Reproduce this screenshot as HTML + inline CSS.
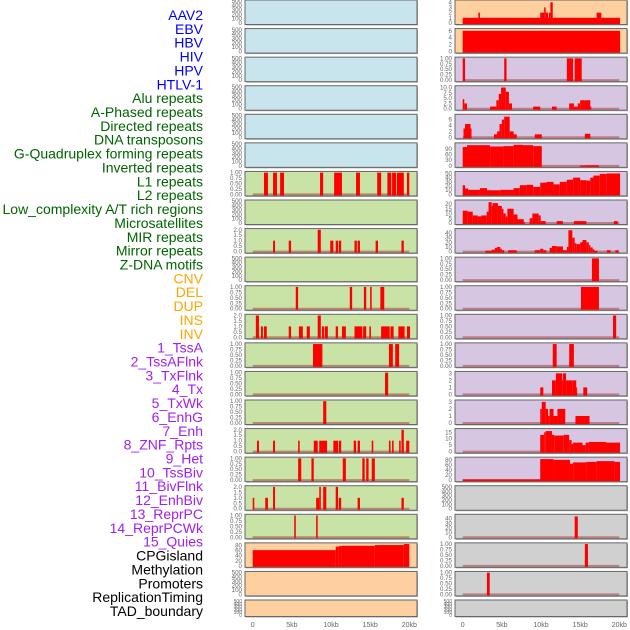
<!DOCTYPE html>
<html><head><meta charset="utf-8">
<style>
html,body{margin:0;padding:0;background:#fff;}
svg{display:block;font-family:"Liberation Sans",sans-serif;}
</style></head>
<body>
<svg id="chart" width="630" height="630" viewBox="0 0 630 630" xmlns="http://www.w3.org/2000/svg"></svg>
<script>
// ---------- data ----------
const labels = ["AAV2","EBV","HBV","HIV","HPV","HTLV-1","Alu repeats","A-Phased repeats","Directed repeats","DNA transposons","G-Quadruplex forming repeats","Inverted repeats","L1 repeats","L2 repeats","Low_complexity A/T rich regions","Microsatellites","MIR repeats","Mirror repeats","Z-DNA motifs","CNV","DEL","DUP","INS","INV","1_TssA","2_TssAFlnk","3_TxFlnk","4_Tx","5_TxWk","6_EnhG","7_Enh","8_ZNF_Rpts","9_Het","10_TssBiv","11_BivFlnk","12_EnhBiv","13_ReprPC","14_ReprPCWk","15_Quies","CPGisland","Methylation","Promoters","ReplicationTiming","TAD_boundary"];
const labelColors = ["#0000ff","#0000ff","#0000ff","#0000ff","#0000ff","#0000ff","#006400","#006400","#006400","#006400","#006400","#006400","#006400","#006400","#006400","#006400","#006400","#006400","#006400","#ffa500","#ffa500","#ffa500","#ffa500","#ffa500","#a020f0","#a020f0","#a020f0","#a020f0","#a020f0","#a020f0","#a020f0","#a020f0","#a020f0","#a020f0","#a020f0","#a020f0","#a020f0","#a020f0","#a020f0","#000","#000","#000","#000","#000"];
const xTicks = [0,5,10,15,20];
const xTickLabels = ["0","5kb","10kb","15kb","20kb"];
const t500 = ["0","100","200","300","400","500"];
const t01 = ["0.00","0.25","0.50","0.75","1.00"];
const t02 = ["0.0","0.5","1.0","1.5","2.0"];
// left column bars: [startKb, endKb, value]
const leftL1 = [[1.44,1.95,1],[2.6,3.1,1],[3.5,4.0,1],[8.6,9.0,1],[10.4,11.4,1],[13.2,13.7,1],[15.9,16.4,1],[17.2,17.7,1],[17.8,18.3,1],[18.4,19.3,1],[19.7,20.0,1]];
const leftMIR = [[2.6,2.85,1],[4.6,4.9,1],[8.3,8.7,2],[9.9,10.3,1],[10.6,10.9,1],[11.0,11.3,1],[13.0,13.3,1],[13.4,13.7,1],[15.7,16.0,1],[19.0,19.3,1]];
const leftR10 = [[5.5,5.8,1],[12.4,12.7,1],[14.2,14.5,1],[15.0,15.2,1],[16.3,16.8,1]];
const leftR11 = [[0.4,0.8,2],[1.06,1.3,1],[1.44,1.8,1],[4.6,4.9,1],[5.9,6.4,1],[6.9,7.3,1],[8.3,8.7,2],[8.85,9.1,1],[9.2,9.6,1],[10.6,10.9,1],[11.4,11.9,1],[13.0,14.0,1],[14.1,14.5,1],[14.9,15.1,1],[16.4,17.5,1],[17.6,18.0,1],[18.6,19.4,1],[19.7,20.1,1]];
const leftR12 = [[7.7,8.9,1],[17.4,17.9,1],[18.2,18.7,1]];
const leftR13 = [[16.9,17.3,1]];
const leftR14 = [[9.0,9.4,1]];
const leftR15 = [[0.55,0.8,1],[2.6,2.85,1],[5.8,6.0,1],[7.8,8.3,1],[8.5,9.5,1],[10.3,10.9,1],[11.0,11.3,1],[12.9,13.2,1],[13.4,13.7,1],[15.2,15.4,1],[17.4,17.6,1],[17.8,18.0,1],[18.7,18.9,1],[19.0,19.3,2],[19.6,20.0,1]];
const leftR16 = [[5.8,6.2,1],[7.5,7.8,1],[11.5,11.9,1],[14.0,14.3,1],[14.5,14.8,1],[15.2,15.6,1]];
const leftR17 = [[0,0.2,1],[1.6,1.95,1],[2.6,2.85,2],[8.1,8.5,1],[8.5,8.7,2],[9.0,9.4,2],[10.6,10.9,2],[11.0,11.3,1],[13.4,13.7,1],[19.0,19.3,1]];
const leftR18 = [[5.3,5.5,1],[8.1,8.3,1]];
const leftCPG = [[0,10.6,62],[10.6,11.0,76],[11.0,11.4,78],[11.4,15.6,79],[15.6,19.3,82],[19.3,20.0,86]];
// right column bars
const rightAAV2 = [[0,20.1,1],[2.0,2.2,2],[9.9,10.4,2],[10.4,10.6,3],[10.6,10.9,2],[11.0,11.2,2],[11.2,11.5,4],[17.1,17.7,2]];
const rightEBV = [[0,20.1,6]];
const rightHIV = [[0,0.3,1],[5.3,5.6,1],[13.3,14.1,1],[14.3,15.2,1]];
const rightHPV = [[0,0.2,4.5],[0.2,0.55,2.5],[3.5,4.3,1],[4.3,4.6,4],[4.6,4.9,7],[4.9,5.5,10],[5.5,5.9,8],[5.9,6.3,2.5],[9.0,9.9,1],[11.4,12.0,1],[13.6,14.2,2.5],[14.2,14.7,1],[14.7,15.0,2.5],[15.0,15.5,4],[15.5,16.3,4],[16.3,16.4,1]];
const rightHTLV = [[0.1,0.3,3],[0.3,1.0,4.5],[1.0,1.1,3],[4.0,4.4,1],[4.4,4.7,2],[4.7,5.0,4.5],[5.0,5.3,6],[5.3,6.0,7],[6.0,6.5,2],[6.5,6.9,1],[9.2,10.1,1],[15.6,16.3,1.2]];
const rightAlu = [[0,0.55,100],[0.55,3.5,110],[3.5,5.2,103],[5.2,6.5,105],[6.5,7.7,112],[7.7,9.0,110],[9.0,10.1,105],[15.0,15.6,2],[15.6,17.4,3]];
const rightAPhased = [[0,0.3,22],[0.3,0.7,14],[0.7,2.2,11],[2.2,3.1,15],[3.1,4.8,10],[4.8,6.5,11],[6.5,7.3,15],[7.3,8.2,22],[8.2,9.0,23],[9.0,9.9,18],[9.9,10.7,28],[10.7,11.6,30],[11.6,12.4,24],[12.4,13.3,30],[13.3,14.1,35],[14.1,15.0,40],[15.0,15.8,34],[15.8,16.3,33],[16.3,16.7,40],[16.7,17.5,45],[17.5,18.4,49],[18.4,20.1,50]];
const rightDirected = [[0,0.64,13],[0.64,1.28,12],[1.28,1.9,8],[1.9,2.4,7],[2.4,3.06,8],[3.06,3.3,12],[3.3,3.7,22],[3.7,3.8,18],[3.8,4.5,21],[4.5,5.0,18],[5.0,5.2,15],[5.2,5.5,10],[5.5,5.7,7],[5.7,6.5,15],[6.5,7.0,9],[7.0,7.8,4],[7.8,7.9,1],[8.55,8.9,5],[8.9,9.7,10],[9.7,9.96,8],[9.96,10.6,2],[12.0,12.8,2],[14.2,15.8,2],[19.3,19.8,2]];
const rightMIR = [[2.9,3.7,2],[3.7,4.1,4],[4.1,4.4,8],[4.4,4.8,10],[4.8,5.0,6],[5.0,5.3,3],[5.8,6.9,3],[9.2,9.9,3],[9.9,10.3,6],[10.3,10.7,3],[11.1,11.4,8],[11.4,12.0,12],[12.0,12.8,11],[12.8,13.3,3],[13.3,13.5,10],[13.5,14.0,46],[14.0,14.3,30],[14.3,14.5,18],[14.5,15.0,16],[15.0,15.3,20],[15.3,15.8,25],[15.8,16.1,20],[16.1,16.3,14],[16.3,16.6,9],[16.6,16.8,5],[16.8,17.2,2],[18.4,18.9,3],[19.5,19.9,3]];
const rightR9 = [[16.5,17.4,1]];
const rightR10 = [[15.1,17.4,1]];
const rightR11 = [[19.2,19.6,1]];
const rightR12 = [[11.5,12.0,1],[13.6,14.2,1]];
const rightR13 = [[9.9,10.3,1],[11.4,11.9,2],[11.9,12.7,3],[12.7,12.8,2],[12.8,13.2,3],[13.2,14.0,2],[14.0,14.5,2],[14.5,14.6,1],[15.4,15.9,1]];
const rightR14 = [[9.9,10.1,2],[10.1,10.6,3],[10.6,10.9,2],[10.9,11.1,1],[11.1,11.6,2],[11.6,12.1,1],[12.1,13.1,2],[14.4,16.2,1]];
const rightR15 = [[9.9,10.4,13],[10.4,10.6,15],[10.6,11.4,16],[11.4,11.7,13],[11.7,12.9,12.5],[12.9,13.6,13],[13.6,13.9,9],[13.9,14.1,6],[14.1,15.3,7],[15.3,15.7,5],[15.7,16.1,7],[16.1,18.3,7.5],[18.3,20.1,7]];
const rightR16 = [[0,9.9,3],[9.9,11.6,83],[11.6,13.7,80],[13.7,14.1,65],[14.1,15.8,70],[15.8,17.1,72],[17.1,19.4,75],[19.4,20.1,72]];
const rightR18 = [[14.3,14.7,45]];
const rightR19 = [[15.6,16.0,1]];
const rightR20 = [[3.1,3.45,1]];

const BLUE="#c8e4ec", GREEN="#c9e2a5", ORANGE="#ffd09f", PURPLE="#d6c6e2", GREY="#d0d0d0";
const leftPanels = [
 {bg:BLUE,ticks:t500,ymax:500,bars:[]},{bg:BLUE,ticks:t500,ymax:500,bars:[]},{bg:BLUE,ticks:t500,ymax:500,bars:[]},
 {bg:BLUE,ticks:t500,ymax:500,bars:[]},{bg:BLUE,ticks:t500,ymax:500,bars:[]},{bg:BLUE,ticks:t500,ymax:500,bars:[]},
 {bg:GREEN,ticks:t01,ymax:1,bars:leftL1},{bg:GREEN,ticks:t500,ymax:500,bars:[]},
 {bg:GREEN,ticks:t02,ymax:2,bars:leftMIR},{bg:GREEN,ticks:t500,ymax:500,bars:[]},
 {bg:GREEN,ticks:t01,ymax:1,bars:leftR10},{bg:GREEN,ticks:t02,ymax:2,bars:leftR11},
 {bg:GREEN,ticks:t01,ymax:1,bars:leftR12},{bg:GREEN,ticks:t01,ymax:1,bars:leftR13},
 {bg:GREEN,ticks:t01,ymax:1,bars:leftR14},{bg:GREEN,ticks:t02,ymax:2,bars:leftR15},
 {bg:GREEN,ticks:t01,ymax:1,bars:leftR16},{bg:GREEN,ticks:t02,ymax:2,bars:leftR17},
 {bg:GREEN,ticks:t01,ymax:1,bars:leftR18},
 {bg:ORANGE,ticks:["0","20","40","60","80"],ymax:80,top:86,bars:leftCPG},
 {bg:ORANGE,ticks:t500,ymax:500,bars:[]},{bg:ORANGE,ticks:t500,ymax:500,bars:[]}
];
const rightPanels = [
 {bg:ORANGE,ticks:["0","1","2","3","4"],ymax:4,top:4.2,bars:rightAAV2},
 {bg:ORANGE,ticks:["0","2","4","6"],ymax:6,top:6.3,bars:rightEBV},
 {bg:PURPLE,ticks:t01,ymax:1,bars:rightHIV},
 {bg:PURPLE,ticks:["0.0","2.5","5.0","7.5","10.0"],ymax:10,top:10.3,bars:rightHPV},
 {bg:PURPLE,ticks:["0","2","4","6"],ymax:6,top:7.4,bars:rightHTLV},
 {bg:PURPLE,ticks:["0","30","60","90"],ymax:90,top:116,bars:rightAlu},
 {bg:PURPLE,ticks:["0","10","20","30","40","50"],ymax:50,top:52,bars:rightAPhased},
 {bg:PURPLE,ticks:["0","5","10","15","20"],ymax:20,top:23,bars:rightDirected},
 {bg:PURPLE,ticks:["0","10","20","30","40"],ymax:40,top:47,bars:rightMIR},
 {bg:PURPLE,ticks:t01,ymax:1,bars:rightR9},{bg:PURPLE,ticks:t01,ymax:1,bars:rightR10},
 {bg:PURPLE,ticks:t01,ymax:1,bars:rightR11},{bg:PURPLE,ticks:t01,ymax:1,bars:rightR12},
 {bg:PURPLE,ticks:["0","1","2","3"],ymax:3,top:3.1,bars:rightR13},
 {bg:PURPLE,ticks:["0","1","2","3"],ymax:3,top:3.1,bars:rightR14},
 {bg:PURPLE,ticks:["0","5","10","15"],ymax:15,top:17,bars:rightR15},
 {bg:PURPLE,ticks:["0","20","40","60","80"],ymax:80,top:86,bars:rightR16},
 {bg:GREY,ticks:t500,ymax:500,bars:[]},
 {bg:GREY,ticks:["0","10","20","30","40"],ymax:40,top:47,bars:rightR18},
 {bg:GREY,ticks:t01,ymax:1,bars:rightR19},{bg:GREY,ticks:t01,ymax:1,bars:rightR20},
 {bg:GREY,ticks:t500,ymax:500,bars:[]}
];

// ---------- drawing ----------
const NS="http://www.w3.org/2000/svg";
const svg=document.getElementById('chart');
function mk(tag,attrs,parent){const e=document.createElementNS(NS,tag);for(const k in attrs)e.setAttribute(k,attrs[k]);(parent||svg).appendChild(e);return e;}

// labels
labels.forEach((t,i)=>{
  const e=mk('text',{x:203,y:15+i*13.86+5,'text-anchor':'end','font-size':14,fill:labelColors[i]});
  
  
  e.textContent=t;
});

const cols=[{x0:245,x1:417,d0:252.7,panels:leftPanels,name:'left'},{x0:455,x1:627,d0:462.7,panels:rightPanels,name:'right'}];
const pitch=600/21;
cols.forEach(col=>{
  const xs=kb=>col.d0+kb*(156.6/20);
  col.panels.forEach((p,i)=>{
    const top=i*pitch, h=(i===21?16.5:24.5);
    const g=mk('g',{});
    
    
    mk('rect',{x:col.x0+1,y:top+1,width:col.x1-col.x0,height:h,fill:'#aaa'},g);
    mk('rect',{x:col.x0,y:top,width:col.x1-col.x0,height:h,fill:p.bg,stroke:'#666','stroke-width':1},g);
    const y0=top+h-1.5, yT=top+1.2;
    const ytop=p.top||p.ymax;
    const ys=v=>y0-v/ytop*(y0-yT);
    // ticks
    const n=p.ticks.length;
    p.ticks.forEach((t,k)=>{
      const v=p.ymax*k/(n-1);
      const e=mk('text',{x:col.x0-3,y:ys(v)+2,'text-anchor':'end','font-size':(i===21?5:6.2),fill:'#666'},g);
      
      
      e.textContent=t;
    });
    if(p.bars.length){
      const bl=mk('line',{x1:xs(0),x2:xs(20),y1:y0,y2:y0,stroke:'rgba(160,30,30,0.45)','stroke-width':2},g);
      
      
    }
    p.bars.forEach(b=>{
      const x=xs(b[0]), w=Math.max(1,xs(b[1])-xs(b[0])), y=ys(b[2]);
      const r=mk('rect',{x:x,y:y,width:w,height:Math.max(0,y0-y+1),fill:'#ff0000'},g);
      
      
    });
  });
  xTicks.forEach((v,k)=>{
    const e=mk('text',{x:xs(v),y:627,'text-anchor':'middle','font-size':7,fill:'#666'});
    
    
    e.textContent=xTickLabels[k];
  });
});
</script>
</body></html>
